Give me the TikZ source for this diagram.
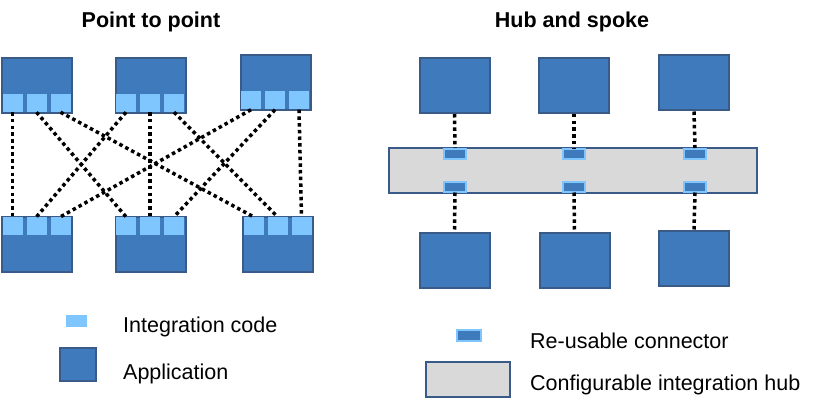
\documentclass[tikz,border=0pt]{standalone}
\usepackage{fontspec}
\setmainfont{Liberation Sans}
\usetikzlibrary{positioning,calc}

\definecolor{appBlue}{HTML}{3F7ABD}
\definecolor{appEdge}{HTML}{3A5B87}
\definecolor{codeBlue}{HTML}{7FC6FF}
\definecolor{hubGray}{HTML}{D9D9D9}

\begin{document}
\begin{tikzpicture}[x = 1pt, y = -1pt,
        app/.style = {draw = appEdge, line width = 2pt, fill = appBlue, minimum width = 70pt, minimum height = 55pt, inner sep = 0pt},
        code/.style = {fill = codeBlue, minimum width = 20pt, minimum height = 18pt, inner sep = 0pt},
        connector/.style = {draw = codeBlue, line width = 2pt, fill = appBlue, minimum width = 22pt, minimum height = 10pt, inner sep = 0pt},
        hub/.style = {draw = appEdge, line width = 2pt, fill = hubGray, inner sep = 0pt},
        link/.style = {line width = 3.5pt, dash pattern = on 3.5pt off 3.2pt},
        title/.style = {font = \fontsize{21.5}{25}\selectfont\bfseries, anchor = base, inner sep = 0pt},
        legend/.style = {font = \fontsize{21.5}{25}\selectfont, anchor = base west, inner sep = 0pt}]

        \def\codeStep{24}

        \useasboundingbox (0, 0) rectangle (824, 409);

        % titles
        \node[title] (titleP) at (151, 28) {Point to point};
        \node[title] (titleH) at (572, 28) {Hub and spoke};

        % point to point: applications
        \node[app] (t1) at ( 37.0, 85.5) {};
        \node[app] (t2) at (150.5, 85.5) {};
        \node[app] (t3) at (275.5, 83.0) {};
        \node[app] (b1) at ( 37.0, 244.0) {};
        \node[app] (b2) at (150.5, 244.0) {};
        \node[app] (b3) at (278.0, 244.0) {};

        % integration code in every application
        \foreach \i in {1, 2, 3} {
            \foreach \k in {1, 2, 3} {
                \node[code] (t\i-\k) at ($(t\i.south west) + ({11.5 + \codeStep*(\k - 1)}, -11)$) {};
                \node[code] (b\i-\k) at ($(b\i.north west) + ({11.5 + \codeStep*(\k - 1)}, 10.5)$) {};
            }
        }

        % every top application talks to every bottom one
        \foreach \i in {1, 2, 3} {
            \foreach \k in {1, 2, 3} {
                \draw[link] (t\i-\k.south) -- (b\k-\i.north);
            }
        }

        % hub and spoke
        \node[hub, minimum width = 368pt, minimum height = 45pt] (hub) at (573, 170.5) {};

        \node[app] (ht1) at (454.5, 85.5) {};
        \node[app] (ht2) at (574.0, 85.5) {};
        \node[app] (ht3) at (694.0, 83.0) {};
        \node[app] (hb1) at (454.5, 260.5) {};
        \node[app] (hb2) at (574.5, 260.5) {};
        \node[app] (hb3) at (694.0, 258.0) {};

        \foreach \i/\x in {1/455, 2/574, 3/695} {
            \node[connector] (ct\i) at (\x, 154.0) {};
            \node[connector] (cb\i) at (\x, 186.5) {};

            \draw[link] (ht\i.south) -- (ct\i.north);
            \draw[link] (cb\i.south) -- (hb\i.north);
        }

        % legend
        \node[code, minimum width = 21pt, minimum height = 12pt] (legCode) at (76.5, 321) {};
        \node[app, minimum width = 36pt, minimum height = 33pt] (legApp) at (78, 364.5) {};
        \node[legend] (legCodeText) at (123, 332) {Integration code};
        \node[legend] (legAppText) at (123, 379) {Application};

        \node[connector, minimum width = 24pt, minimum height = 11pt] (legConn) at (469, 335.5) {};
        \node[hub, minimum width = 84pt, minimum height = 35pt] (legHub) at (468, 379.5) {};
        \node[legend] (legConnText) at (530, 348) {Re-usable connector};
        \node[legend] (legHubText) at (530, 390) {Configurable integration hub};

\end{tikzpicture}
\end{document}
